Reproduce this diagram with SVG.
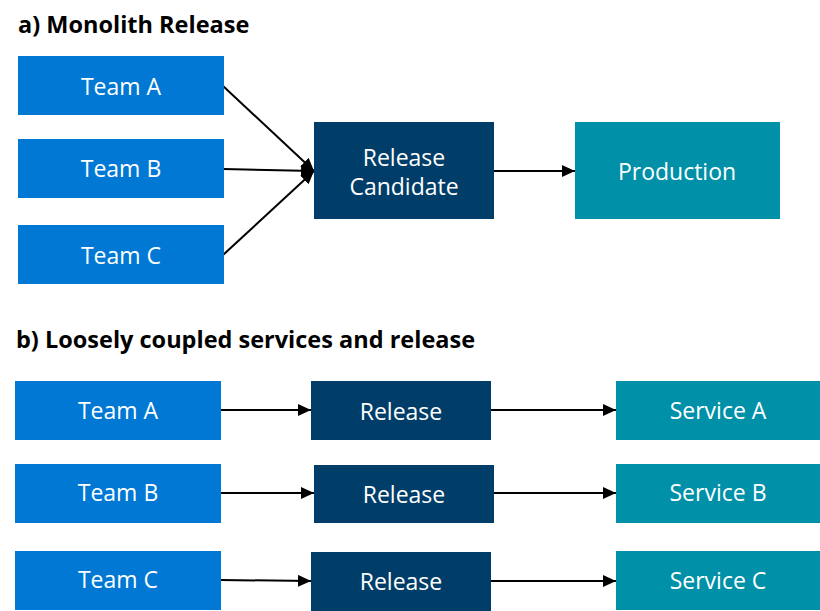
<svg xmlns="http://www.w3.org/2000/svg" width="820" height="611" viewBox="0 0 820 611">
<style>
.t{font-family:"Open Sans","Noto Sans","DejaVu Sans",sans-serif;fill:#fff;font-size:23px;text-anchor:middle;dominant-baseline:central}
.h{font-family:"Open Sans","Noto Sans","DejaVu Sans",sans-serif;font-weight:bold;font-size:23.5px;fill:#000}
.team{fill:#0078D4}
.rel{fill:#003D68}
.svc{fill:#0090A8}
.c{stroke:#000;stroke-width:2;fill:none;marker-end:url(#ah)}
</style>
<defs>
<marker id="ah" markerUnits="userSpaceOnUse" markerWidth="14" markerHeight="12" refX="13" refY="6" orient="auto">
<path d="M0,0 L13,6 L0,12 Z" fill="#000"/>
</marker>
</defs>
<rect width="820" height="611" fill="#fff"/>
<text class="h" x="18" y="33">a) Monolith Release</text>
<text class="h" x="16" y="348">b) Loosely coupled services and release</text>
<g id="connectors">
<line class="c" x1="223" y1="86" x2="314" y2="171"/>
<line class="c" x1="223" y1="169" x2="314" y2="171"/>
<line class="c" x1="223" y1="255" x2="314" y2="171"/>
<line class="c" x1="494" y1="171" x2="575" y2="171"/>
<line class="c" x1="221" y1="410" x2="311" y2="410"/>
<line class="c" x1="491" y1="410" x2="616" y2="410"/>
<line class="c" x1="221" y1="493" x2="314" y2="493"/>
<line class="c" x1="494" y1="493" x2="616" y2="493"/>
<line class="c" x1="221" y1="580" x2="311" y2="581"/>
<line class="c" x1="491" y1="581" x2="616" y2="581"/>
</g>
<g id="a-team-a"><rect class="team" x="18" y="56" width="206" height="59"/><text class="t" x="121" y="86">Team A</text></g>
<g id="a-team-b"><rect class="team" x="18" y="139" width="206" height="59"/><text class="t" x="121" y="168">Team B</text></g>
<g id="a-team-c"><rect class="team" x="18" y="225" width="206" height="59"/><text class="t" x="121" y="255">Team C</text></g>
<g id="a-rc"><rect class="rel" x="314" y="122" width="180" height="97"/><text class="t" x="404" y="157">Release</text><text class="t" x="404" y="186">Candidate</text></g>
<g id="a-prod"><rect class="svc" x="575" y="122" width="205" height="97"/><text class="t" x="677" y="171">Production</text></g>
<g id="b-team-a"><rect class="team" x="15" y="381" width="206" height="59"/><text class="t" x="118" y="410">Team A</text></g>
<g id="b-rel-a"><rect class="rel" x="311" y="381" width="180" height="59"/><text class="t" x="401" y="411">Release</text></g>
<g id="b-svc-a"><rect class="svc" x="616" y="381" width="204" height="59"/><text class="t" x="718" y="410">Service A</text></g>
<g id="b-team-b"><rect class="team" x="15" y="464" width="206" height="59"/><text class="t" x="118" y="492">Team B</text></g>
<g id="b-rel-b"><rect class="rel" x="314" y="465" width="180" height="58"/><text class="t" x="404" y="494">Release</text></g>
<g id="b-svc-b"><rect class="svc" x="616" y="464" width="204" height="59"/><text class="t" x="718" y="492">Service B</text></g>
<g id="b-team-c"><rect class="team" x="15" y="551" width="206" height="59"/><text class="t" x="118" y="579">Team C</text></g>
<g id="b-rel-c"><rect class="rel" x="311" y="552" width="180" height="59"/><text class="t" x="401" y="581">Release</text></g>
<g id="b-svc-c"><rect class="svc" x="616" y="551" width="204" height="59"/><text class="t" x="718" y="580">Service C</text></g>
</svg>
